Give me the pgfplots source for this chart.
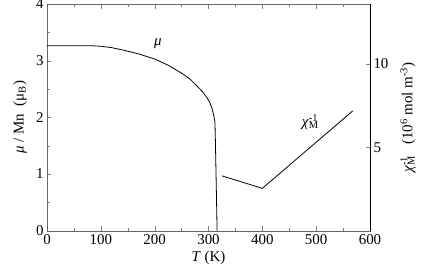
\documentclass[border=0pt]{standalone}
\usepackage{pgfplots}
\pgfplotsset{compat=1.18}
\usepackage{fontspec}
\setmainfont{Liberation Serif}
\newcommand{\fs}{\fontsize{15}{16}\selectfont}
\begin{document}
\begin{tikzpicture}
\useasboundingbox (-47bp,-37.3bp) rectangle (375bp,230.7bp);
\begin{axis}[
  scale only axis, width=323bp, height=226.7bp,
  at={(0,0)}, anchor=south west,
  xmin=0, xmax=600, ymin=0, ymax=4,
  xtick={0,100,...,600}, minor x tick num=1,
  ytick={0,1,2,3,4}, minor y tick num=1,
  xtick pos=both, ytick pos=left, tick align=inside,
  axis line style={black!60},
  major tick length=4.5bp, minor tick length=3bp,
  xticklabel={\pgfmathprintnumber[assume math mode=true]{\tick}},
  yticklabel={\pgfmathprintnumber[assume math mode=true]{\tick}},
  ticklabel style={font=\fs},
  label style={font=\fs},
  xlabel={\textit{T} (K)},
  xlabel style={at={(axis description cs:0.5,0)}, anchor=center, yshift=-27.5bp},
  ylabel={\textit{μ} / Mn\ \ (μ\textsubscript{B})},
  ylabel style={at={(axis description cs:-0.0836,0.5)}, anchor=center},
  clip=false,
]
\addplot[black, line width=0.8bp] coordinates {
(0,3.265) (40,3.265) (80,3.265) (100,3.255) (120,3.23) (140,3.19) (170,3.12) (200,3.03)
(225,2.92) (250,2.78) (265,2.68) (280,2.54) (290,2.44) (297,2.35) (303,2.25)
(307,2.14) (310,2.02) (312,1.92) (313,1.5) (314,1.0) (315,0.5) (316,0)
};
\node[font=\fs] at (axis cs:206,3.3) {\textit{μ}};
\node[font=\fs] at (axis cs:489,1.92) {\textit{χ}\rlap{\textsuperscript{-1}}\textsubscript{M}};
\end{axis}
\begin{axis}[
  scale only axis, width=323bp, height=226.7bp,
  at={(0,0)}, anchor=south west,
  xmin=0, xmax=600, ymin=0, ymax=13.6,
  axis x line=none, axis y line*=right,
  axis line style={-, black},
  ytick={5,10}, tick align=inside, major tick length=4.5bp,
  yticklabel={\pgfmathprintnumber[assume math mode=true]{\tick}},
  ticklabel style={font=\fs},
  label style={font=\fs},
  ylabel={\textit{χ}\rlap{\textsuperscript{-1}}\textsubscript{M}\ \ \ (10\textsuperscript{6} mol\ m\textsuperscript{-3})},
  ylabel style={at={(axis description cs:1.1176,0.5)}, anchor=center},
]
\addplot[black, line width=0.8bp] coordinates {(325,3.29) (400,2.54) (568,7.19)};
\end{axis}
\end{tikzpicture}
\end{document}
